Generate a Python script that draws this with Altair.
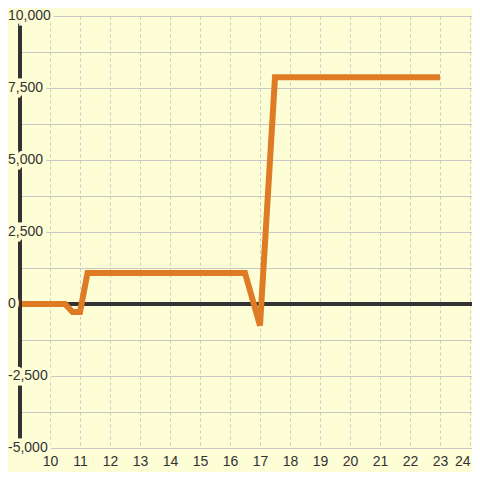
import altair as alt
import pandas as pd

# ---- data ----
hours = [9.0, 10.5, 10.75, 11.0, 11.25, 16.5, 17.0, 17.5, 23.0]
values = [0, 0, -280, -280, 1080, 1080, -750, 7870, 7870]

x_ticks = [10, 11, 12, 13, 14, 15, 16, 17, 18, 19, 20, 21, 22, 23, 24]
y_grid = [-5000, -3750, -2500, -1250, 0, 1250, 2500, 3750, 5000, 6250, 7500, 8750, 10000]
y_label_values = [-5000, -2500, 0, 2500, 5000, 7500, 10000]
y_label_texts = ["-5,000", "-2,500", "0", "2,500", "5,000", "7,500", "10,000"]

BG = "#fdfdd6"
ORANGE = "#e07b25"
DARK = "#333333"
GRID = "#c8c8c8"
FONT = "Liberation Sans"

line_df = pd.DataFrame({"h": hours, "v": values})
lab_df = pd.DataFrame({"v": y_label_values, "t": y_label_texts})

xscale = alt.Scale(domain=[9, 24.0667], nice=False, zero=False)
yscale = alt.Scale(domain=[-5000, 10000], nice=False, zero=False)

xaxis = alt.Axis(values=x_ticks, grid=True, gridDash=[3, 3], gridColor=GRID,
                 domain=False, ticks=False, labelFontSize=14, labelColor=DARK,
                 labelFont=FONT, labelPadding=6, labelFlush=3,
                 labelOverlap=False, title=None)
yaxis = alt.Axis(values=y_grid, grid=True, gridColor=GRID, domain=False,
                 ticks=False, labels=False, title=None)

line = alt.Chart(line_df).mark_line(
    color=ORANGE, strokeWidth=6, strokeJoin="miter", strokeCap="butt"
).encode(
    x=alt.X("h:Q", scale=xscale, axis=xaxis),
    y=alt.Y("v:Q", scale=yscale, axis=yaxis),
)

zero = alt.Chart(line_df).mark_rule(color=DARK, strokeWidth=3).encode(
    y=alt.YDatum(0, scale=yscale, axis=yaxis))
yaxis_line = alt.Chart(line_df).mark_rule(color=DARK, strokeWidth=3).encode(
    x=alt.XDatum(9, scale=xscale, axis=xaxis))

halo = alt.Chart(lab_df).mark_text(
    align="left", baseline="middle", fontSize=14, font=FONT,
    fill=BG, stroke=BG, strokeWidth=7
).encode(x=alt.value(-12), y=alt.Y("v:Q", scale=yscale, axis=yaxis), text="t:N")

labels = alt.Chart(lab_df).mark_text(
    align="left", baseline="middle", fontSize=14, font=FONT, color=DARK
).encode(x=alt.value(-12), y=alt.Y("v:Q", scale=yscale, axis=yaxis), text="t:N")

chart = alt.layer(zero, line, yaxis_line, halo, labels).properties(
    width=452, height=432,
    autosize=alt.AutoSizeParams(type="none"),
    padding={"left": 12, "top": 8, "right": 0, "bottom": 24},
    background=BG,
).configure_view(stroke=None)

chart.save("out.html", embed_options={"renderer": "svg", "actions": False})
